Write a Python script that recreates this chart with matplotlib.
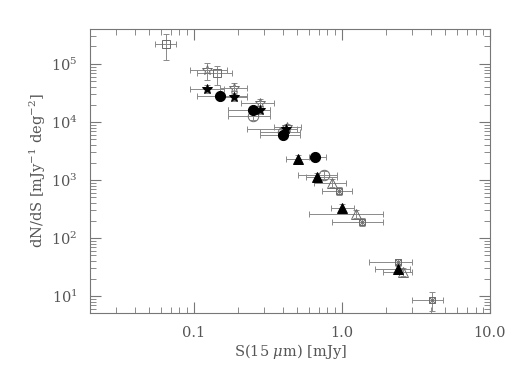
import matplotlib
matplotlib.use("Agg")
import matplotlib.pyplot as plt
import numpy as np
from matplotlib.ticker import FixedLocator, FixedFormatter, LogLocator, NullFormatter

plt.rcParams['font.family'] = ['DejaVu Serif']
plt.rcParams['mathtext.fontset'] = 'dejavuserif'

# ---- data: (x, y, x_lo, x_hi, y_lo, y_hi) ----
sq_x = [0.065, 0.145]
sq_y = [2.2e5, 7.0e4]
sq_xlo = [0.055, 0.105]; sq_xhi = [0.076, 0.183]
sq_ylo = [1.17e5, 4.4e4]; sq_yhi = [3.3e5, 9.2e4]

ostar_x = [0.124, 0.186, 0.279, 0.425]
ostar_y = [7.9e4, 3.9e4, 2.1e4, 8.2e3]
ostar_xlo = [0.095, 0.15, 0.21, 0.35]; ostar_xhi = [0.167, 0.23, 0.35, 0.53]
ostar_ylo = [5.3e4, 3.05e4, 1.75e4, 7.0e3]; ostar_yhi = [1.03e5, 4.7e4, 2.5e4, 9.4e3]

fstar_x = [0.124, 0.186, 0.279, 0.42]
fstar_y = [3.7e4, 2.7e4, 1.6e4, 7.6e3]
fstar_xlo = [0.095, 0.15, 0.17, 0.23]; fstar_xhi = [0.16, 0.23, 0.33, 0.50]
fstar_ylo = [3.1e4, 2.3e4, 1.35e4, 6.5e3]; fstar_yhi = [4.4e4, 3.2e4, 1.9e4, 8.9e3]

fcirc_x = [0.15, 0.25, 0.40, 0.66]
fcirc_y = [2.8e4, 1.6e4, 6.0e3, 2.5e3]
fcirc_xlo = [0.105, 0.17, 0.28, 0.60]; fcirc_xhi = [0.23, 0.33, 0.52, 0.78]
fcirc_ylo = [2.4e4, 1.35e4, 5.0e3, 2.1e3]; fcirc_yhi = [3.3e4, 1.9e4, 7.1e3, 2.9e3]

ocirc_x = [0.25, 0.40, 0.755]
ocirc_y = [1.27e4, 6.6e3, 1.22e3]
ocirc_xlo = [0.17, 0.28, 0.51]; ocirc_xhi = [0.33, 0.52, 0.93]
ocirc_ylo = [1.07e4, 5.6e3, 1.05e3]; ocirc_yhi = [1.5e4, 7.8e3, 1.42e3]

ftri_x = [0.505, 0.678, 1.0, 2.39]
ftri_y = [2.3e3, 1.13e3, 329, 29]
ftri_xlo = [0.42, 0.57, 0.85, 1.67]; ftri_xhi = [0.65, 0.93, 1.2, 2.9]
ftri_ylo = [2.0e3, 0.97e3, 280, 24]; ftri_yhi = [2.65e3, 1.3e3, 385, 35]

otri_x = [0.855, 1.24, 2.58]
otri_y = [887, 260, 26]
otri_xlo = [0.65, 0.6, 1.9]; otri_xhi = [1.07, 1.9, 3.0]
otri_ylo = [760, 220, 22]; otri_yhi = [1030, 305, 31]

xsq_x = [0.955, 1.36, 2.39, 4.06]
xsq_y = [646, 189, 38, 8.5]
xsq_xlo = [0.74, 0.855, 1.52, 3.0]; xsq_xhi = [1.17, 1.89, 3.0, 4.8]
xsq_ylo = [560, 162, 33, 5.5]; xsq_yhi = [745, 220, 44, 11.7]

xticks = [0.1, 1.0, 10.0]
xticklabels = ['0.1', '1.0', '10.0']

fig = plt.figure(figsize=(5.19, 3.71), dpi=100)
ax = fig.add_axes([0.1734, 0.1563, 0.7707, 0.7655])
ax.set_xscale('log'); ax.set_yscale('log')
ax.set_xlim(0.02, 10.0)
ax.set_ylim(5.1, 4.0e5)

ecol = '#8a8a8a'
ocol = '#6a6a6a'
def series(x, y, xlo, xhi, ylo, yhi, marker, filled, ms, mew=0.7, z=3):
    x = np.array(x); y = np.array(y)
    xerr = [x - np.array(xlo), np.array(xhi) - x]
    yerr = [y - np.array(ylo), np.array(yhi) - y]
    ax.errorbar(x, y, xerr=xerr, yerr=yerr, fmt='none', ecolor=ecol,
                elinewidth=0.7, capsize=2.5, capthick=0.7, zorder=2)
    if filled:
        ax.plot(x, y, linestyle='none', marker=marker, mfc='black', mec='black',
                ms=ms, mew=mew, zorder=z)
    else:
        ax.plot(x, y, linestyle='none', marker=marker, mfc='none', mec=ocol,
                ms=ms, mew=mew, zorder=z)

series(sq_x, sq_y, sq_xlo, sq_xhi, sq_ylo, sq_yhi, 's', False, 5.5)
series(ocirc_x, ocirc_y, ocirc_xlo, ocirc_xhi, ocirc_ylo, ocirc_yhi, 'o', False, 7.5, z=3)
series(fcirc_x, fcirc_y, fcirc_xlo, fcirc_xhi, fcirc_ylo, fcirc_yhi, 'o', True, 7.3, z=4)
series(ostar_x, ostar_y, ostar_xlo, ostar_xhi, ostar_ylo, ostar_yhi, '*', False, 7)
series(fstar_x, fstar_y, fstar_xlo, fstar_xhi, fstar_ylo, fstar_yhi, '*', True, 7.5, z=4)
series(otri_x, otri_y, otri_xlo, otri_xhi, otri_ylo, otri_yhi, '^', False, 7)
series(ftri_x, ftri_y, ftri_xlo, ftri_xhi, ftri_ylo, ftri_yhi, '^', True, 7, z=4)
series(xsq_x, xsq_y, xsq_xlo, xsq_xhi, xsq_ylo, xsq_yhi, 's', False, 4.2)
ax.plot(xsq_x, xsq_y, linestyle='none', marker='x', color=ocol, ms=4, mew=0.7, zorder=3)
ax.plot(ostar_x, ostar_y, linestyle='none', marker='+', color='#888888', ms=4, mew=0.6, zorder=3)

tcol = '#555555'
for s in ax.spines.values():
    s.set_color('#777777'); s.set_linewidth(0.8)
ax.xaxis.set_major_locator(FixedLocator(xticks))
ax.xaxis.set_major_formatter(FixedFormatter(xticklabels))
ax.xaxis.set_minor_locator(LogLocator(base=10, subs=np.arange(2, 10)))
ax.xaxis.set_minor_formatter(NullFormatter())
ax.yaxis.set_major_locator(FixedLocator([1e1, 1e2, 1e3, 1e4, 1e5]))
ax.yaxis.set_minor_locator(LogLocator(base=10, subs=np.arange(2, 10)))
ax.yaxis.set_minor_formatter(NullFormatter())
ax.tick_params(which='both', direction='in', top=True, right=True, colors='#777777',
               labelcolor=tcol, labelsize=10.5)
ax.tick_params(which='major', length=8, width=0.8, pad=9)
ax.tick_params(which='minor', length=4, width=0.6)
ax.set_xlabel(r'S(15 $\mu$m) [mJy]', color=tcol, fontsize=10.5, labelpad=2)
ax.set_ylabel(r'dN/dS [mJy$^{-1}$ deg$^{-2}$]', color=tcol, fontsize=10.5, labelpad=2)

fig.savefig('out.png', dpi=100, facecolor='white')
